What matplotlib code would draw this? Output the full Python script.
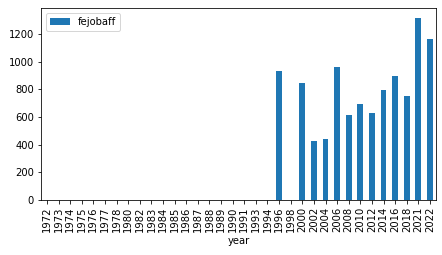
import matplotlib
matplotlib.use("Agg")
import matplotlib.pyplot as plt
from matplotlib.ticker import MultipleLocator
import numpy as np

# years on the x axis (categorical, as pandas bar plot does)
years = ["1972", "1973", "1974", "1975", "1976", "1977", "1978", "1980", "1982",
         "1983", "1984", "1985", "1986", "1987", "1988", "1989", "1990", "1991",
         "1993", "1994", "1996", "1998", "2000", "2002", "2004", "2006", "2008",
         "2010", "2012", "2014", "2016", "2018", "2021", "2022"]

# fejobaff counts (0 where no bar is drawn)
fejobaff = [0, 0, 0, 0, 0, 0, 0, 0, 0,
            0, 0, 0, 0, 0, 0, 0, 0, 0,
            0, 0, 931, 0, 845, 426, 440, 960, 614,
            693, 628, 794, 895, 751, 1321, 1162]

fig, ax = plt.subplots(figsize=(442 / 72, 255 / 72), dpi=72)
fig.subplots_adjust(left=0.093, right=0.986, top=0.967, bottom=0.216)

x = np.arange(len(years))
ax.bar(x, fejobaff, width=0.5, color="#1f77b4", label="fejobaff")
ax.set_xticks(x)
ax.set_xticklabels(years, rotation=90)
ax.set_xlim(-0.5, len(years) - 0.5)
ax.yaxis.set_major_locator(MultipleLocator(200))
ax.set_xlabel("year")
ax.legend(loc="upper left")

fig.savefig("out.png", dpi=72)
